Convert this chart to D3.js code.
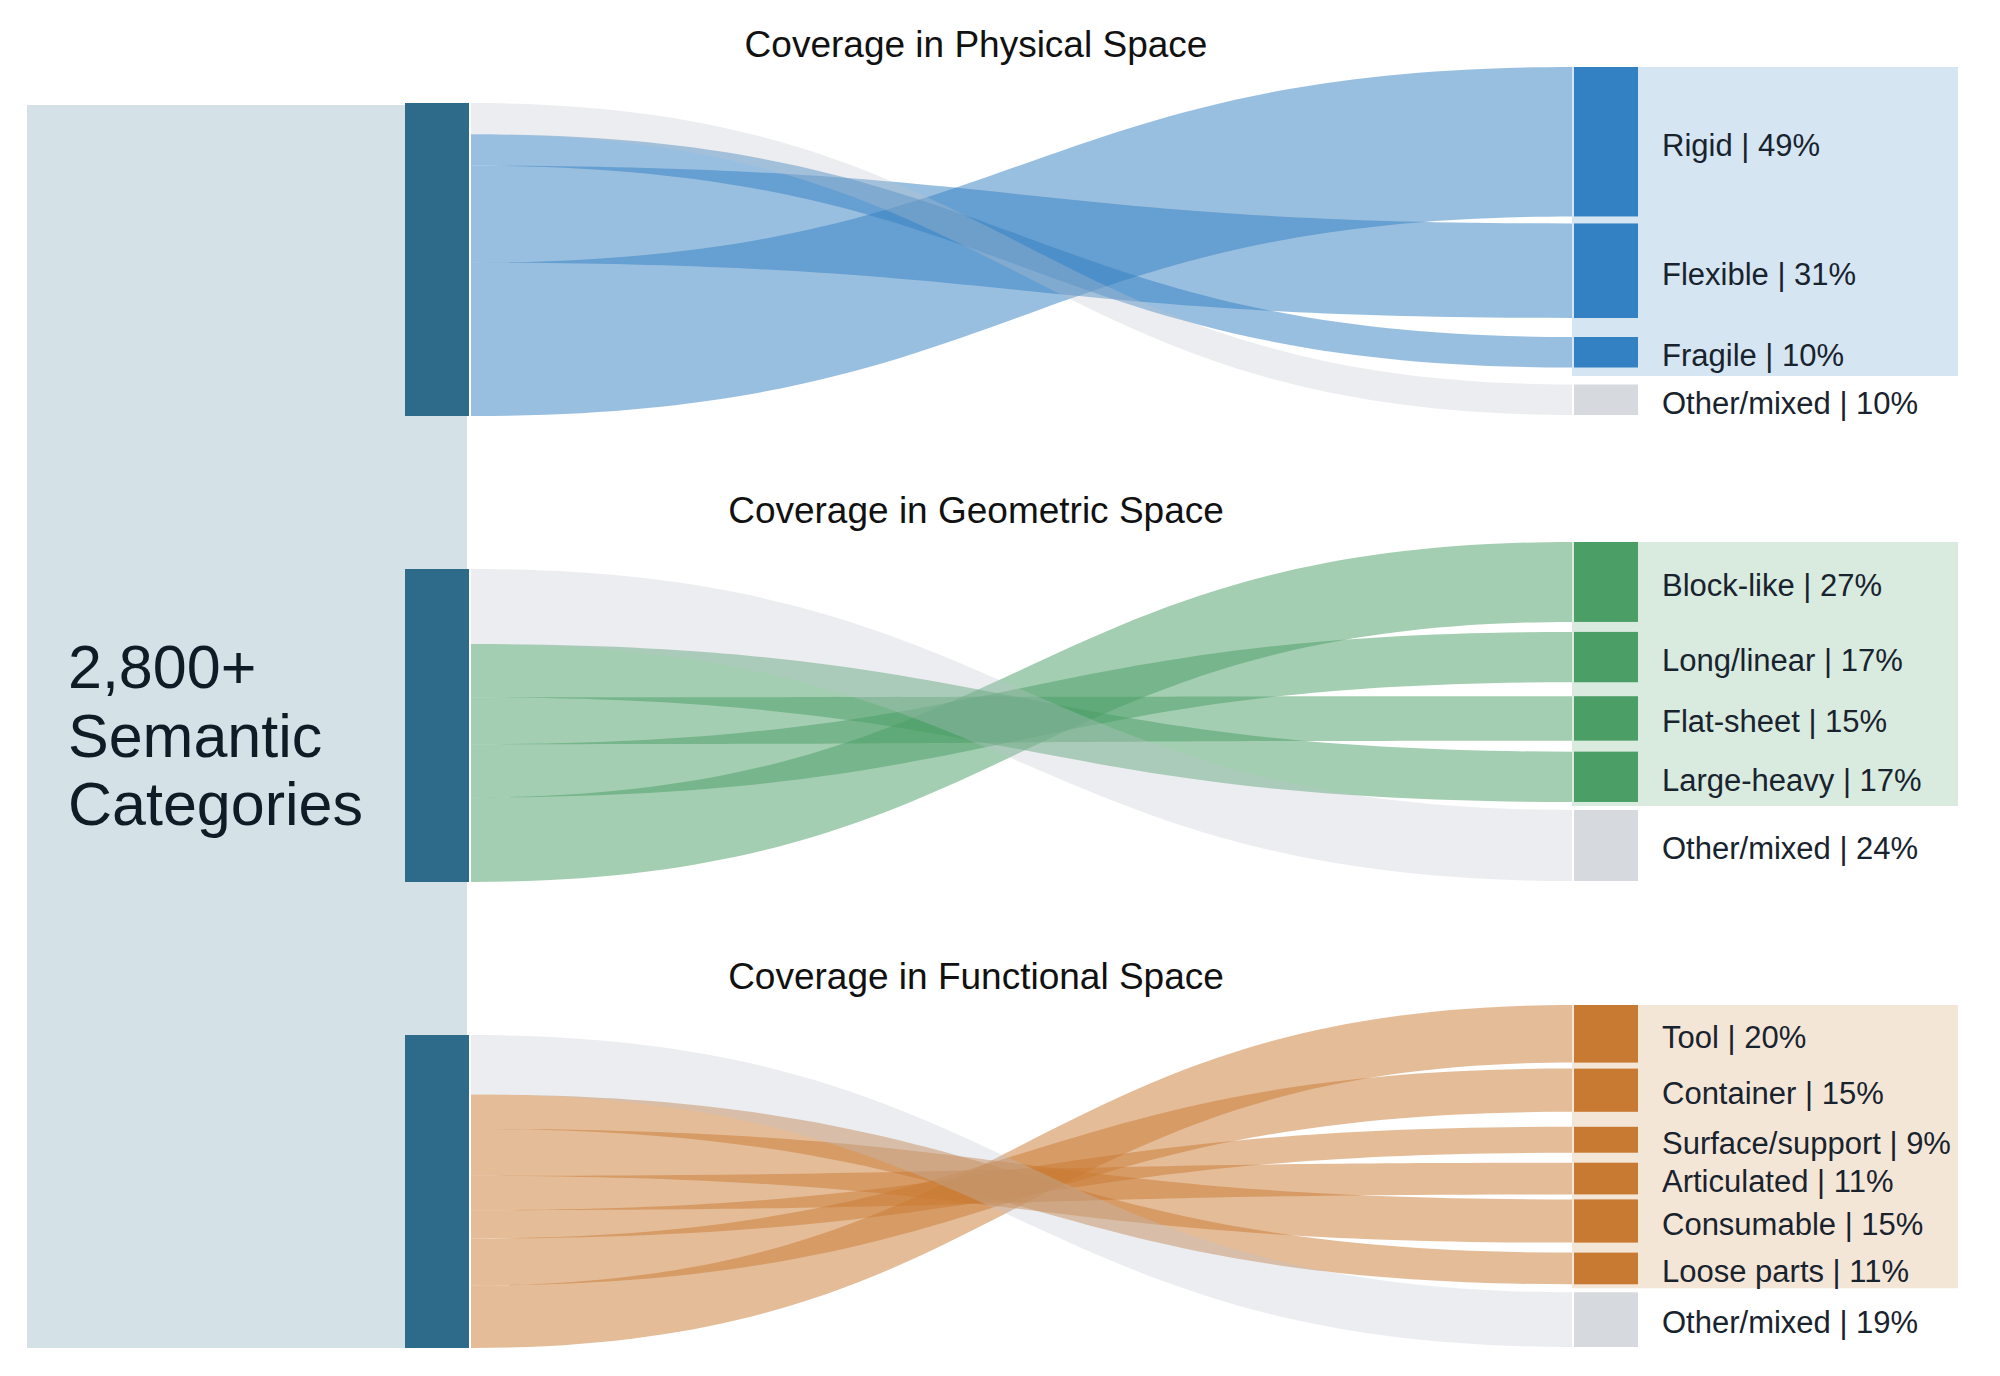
<!DOCTYPE html>
<html>
<head>
<meta charset="utf-8">
<script src="https://cdn.jsdelivr.net/npm/d3@7/dist/d3.min.js"></script>
<style>
  body { margin: 0; background: #fff; }
  text { font-family: "Liberation Sans", Arial, sans-serif; }
</style>
</head>
<body>
<script>
// data
var sourceLines = ["2,800+", "Semantic", "Categories"];
var panelTitles = ["Coverage in Physical Space", "Coverage in Geometric Space", "Coverage in Functional Space"];

var physicalCats = ["Rigid", "Flexible", "Fragile", "Other/mixed"];
var physicalPct = [49, 31, 10, 10];

var geometricCats = ["Block-like", "Long/linear", "Flat-sheet", "Large-heavy", "Other/mixed"];
var geometricPct = [27, 17, 15, 17, 24];

var functionalCats = ["Tool", "Container", "Surface/support", "Articulated", "Consumable", "Loose parts", "Other/mixed"];
var functionalPct = [20, 15, 9, 11, 15, 11, 19];

// colours (node, link, band behind labels)
var hues = [
    {node: "#3380c2", link: "rgba(51,128,194,0.5)", band: "#d5e5f2"},
    {node: "#4a9e66", link: "rgba(74,158,102,0.5)", band: "#d9eadf"},
    {node: "#c97a32", link: "rgba(201,122,50,0.5)", band: "#f4e6d7"}
];
var otherNode = "#d6d9de";
var otherLink = "rgba(190,196,204,0.3)";

var panels = [
    {title: panelTitles[0], cats: physicalCats, pct: physicalPct},
    {title: panelTitles[1], cats: geometricCats, pct: geometricPct},
    {title: panelTitles[2], cats: functionalCats, pct: functionalPct}
];

var width = 2000;
var height = 1376;

var svg = d3.select("body")
    .append("svg")
    .attr("width", width)
    .attr("height", height);

// layout
var leftNodeX = 405, nodeW = 64;
var linkX0 = 471, linkX1 = 1572;
var rightNodeX = 1574;
var labelX = 1662;
var leftTop = 103, leftH = 313, panelStep = 466;
var rightTop = [67, 542, 1005];
var rightBottom = [415, 881, 1347];
// gaps between the right-hand nodes
var rightGaps = [
    [7, 19, 17],
    [10, 14, 11, 8],
    [6, 15, 10, 5, 10, 8]
];

// source block
svg.append("rect")
    .attr("x", 27)
    .attr("y", 105)
    .attr("width", 440)
    .attr("height", 1243)
    .attr("fill", "#d4e2e8");

svg.selectAll(".source")
    .data(sourceLines)
    .enter()
    .append("text")
    .attr("class", "source")
    .attr("x", 68)
    .attr("y", function(d, i){ return 688 + i * 68.5; })
    .attr("font-size", 61)
    .attr("fill", "#0f1b25")
    .text(function(d){ return d; });

function band(x0, x1, a0, a1, b0, b1) {
    var xm = (x0 + x1) / 2;
    var p = d3.path();
    p.moveTo(x0, a0);
    p.bezierCurveTo(xm, a0, xm, b0, x1, b0);
    p.lineTo(x1, b1);
    p.bezierCurveTo(xm, b1, xm, a1, x0, a1);
    p.closePath();
    return p.toString();
}

panels.forEach(function(panel, i){
    var n = panel.cats.length;
    var top = leftTop + i * panelStep;
    var yLeft = d3.scaleLinear().domain([0, 100]).range([top, top + leftH]);
    var gaps = rightGaps[i];
    var span = rightBottom[i] - rightTop[i] - d3.sum(gaps);
    var yRight = d3.scaleLinear().domain([0, 100]).range([0, span]);

    // right nodes stacked in category order
    var cum = 0, off = 0;
    var nodes = panel.cats.map(function(c, j){
        if (j > 0) off += gaps[j - 1];
        var y0 = rightTop[i] + yRight(cum) + off;
        cum += panel.pct[j];
        var y1 = rightTop[i] + yRight(cum) + off;
        return {name: c, pct: panel.pct[j], y0: y0, y1: y1, other: j == n - 1};
    });

    // left side stacked in reverse order (Other/mixed on top)
    cum = 0;
    for (var j = n - 1; j >= 0; j--) {
        nodes[j].l0 = yLeft(cum);
        cum += panel.pct[j];
        nodes[j].l1 = yLeft(cum);
    }

    var g = svg.append("g");

    // band behind the non-other labels
    var last = nodes[n - 2], oth = nodes[n - 1];
    g.append("rect")
        .attr("x", linkX1)
        .attr("y", nodes[0].y0)
        .attr("width", 1958 - linkX1)
        .attr("height", (last.y1 + oth.y0) / 2 - nodes[0].y0)
        .attr("fill", hues[i].band);

    // links: coloured first, grey on top
    var ordered = nodes.slice(0, n - 1).concat([oth]);
    g.selectAll(".link")
        .data(ordered)
        .enter()
        .append("path")
        .attr("class", "link")
        .attr("d", function(d){ return band(linkX0, linkX1, d.l0, d.l1, d.y0, d.y1); })
        .attr("fill", function(d){ return d.other ? otherLink : hues[i].link; });

    // left node
    g.append("rect")
        .attr("x", leftNodeX)
        .attr("y", yLeft(0))
        .attr("width", nodeW)
        .attr("height", yLeft(100) - yLeft(0))
        .attr("fill", "#2e6b8a");

    // right nodes
    g.selectAll(".node")
        .data(nodes)
        .enter()
        .append("rect")
        .attr("class", "node")
        .attr("x", rightNodeX)
        .attr("y", function(d){ return d.y0; })
        .attr("width", nodeW)
        .attr("height", function(d){ return d.y1 - d.y0; })
        .attr("fill", function(d){ return d.other ? otherNode : hues[i].node; });

    g.selectAll(".label")
        .data(nodes)
        .enter()
        .append("text")
        .attr("class", "label")
        .attr("x", labelX)
        .attr("y", function(d){ return (d.y0 + d.y1) / 2 + 3; })
        .attr("dy", "0.35em")
        .attr("font-size", 31)
        .attr("fill", "#18232e")
        .text(function(d){ return d.name + " | " + d.pct + "%"; });

    g.append("text")
        .attr("x", 976)
        .attr("y", top - 58.5)
        .attr("dy", "0.35em")
        .attr("text-anchor", "middle")
        .attr("font-size", 37)
        .attr("fill", "#111")
        .text(panel.title);
});
</script>
</body>
</html>
